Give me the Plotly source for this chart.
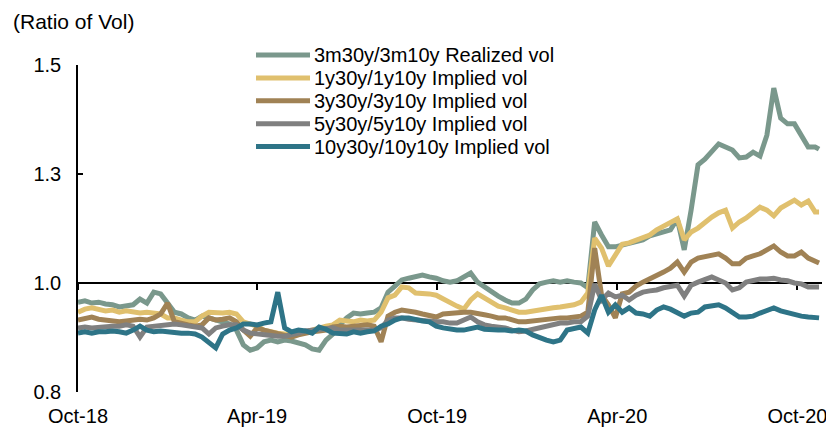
import pandas as pd
import plotly.graph_objects as go

# Weekly observation dates (Oct-2018 .. Oct-2020) plus the last print
dates = list(pd.date_range("2018-10-01", periods=108, freq="7D").strftime("%Y-%m-%d")) + ["2020-10-23"]

realized_3m = [
    0.956, 0.959, 0.954, 0.956, 0.952, 0.950, 0.945, 0.947, 0.950, 0.963,
    0.954, 0.979, 0.975, 0.954, 0.933, 0.929, 0.920, 0.915, 0.924, 0.920,
    0.915, 0.911, 0.906, 0.892, 0.858, 0.846, 0.851, 0.865, 0.869, 0.865,
    0.869, 0.867, 0.862, 0.858, 0.849, 0.846, 0.869, 0.883, 0.904, 0.920,
    0.931, 0.929, 0.931, 0.933, 0.943, 0.979, 0.993, 1.007, 1.011, 1.016,
    1.018, 1.014, 1.011, 1.005, 1.002, 1.005, 1.014, 1.023, 1.002, 0.991,
    0.979, 0.970, 0.961, 0.954, 0.954, 0.963, 0.984, 0.998, 1.002, 1.005,
    1.002, 1.005, 1.002, 1.000, 0.989, 1.140, 1.110, 1.083, 1.083, 1.087,
    1.092, 1.096, 1.099, 1.108, 1.112, 1.117, 1.122, 1.147, 1.076, 1.167,
    1.271, 1.284, 1.300, 1.319, 1.312, 1.305, 1.287, 1.289, 1.300, 1.291,
    1.339, 1.447, 1.378, 1.365, 1.365, 1.339, 1.312, 1.312, 1.307,
]
implied_1y = [
    0.933, 0.940, 0.943, 0.938, 0.936, 0.938, 0.933, 0.936, 0.933, 0.931,
    0.933, 0.931, 0.929, 0.920, 0.920, 0.915, 0.911, 0.911, 0.924, 0.933,
    0.931, 0.931, 0.933, 0.929, 0.911, 0.906, 0.901, 0.892, 0.888, 0.885,
    0.883, 0.881, 0.883, 0.888, 0.890, 0.897, 0.901, 0.904, 0.915, 0.913,
    0.911, 0.915, 0.913, 0.915, 0.933, 0.966, 0.972, 0.991, 0.989, 0.977,
    0.977, 0.975, 0.972, 0.963, 0.954, 0.947, 0.940, 0.961, 0.975, 0.966,
    0.959, 0.947, 0.943, 0.938, 0.933, 0.933, 0.936, 0.938, 0.940, 0.943,
    0.945, 0.947, 0.950, 0.956, 0.977, 1.103, 1.080, 1.039, 1.064, 1.089,
    1.092, 1.099, 1.106, 1.110, 1.122, 1.131, 1.140, 1.147, 1.099, 1.117,
    1.126, 1.140, 1.151, 1.161, 1.167, 1.126, 1.140, 1.149, 1.163, 1.174,
    1.167, 1.154, 1.172, 1.181, 1.190, 1.179, 1.188, 1.163, 1.163,
]
implied_3y = [
    0.915, 0.920, 0.922, 0.917, 0.915, 0.913, 0.911, 0.913, 0.915, 0.917,
    0.915, 0.920, 0.929, 0.954, 0.911, 0.906, 0.904, 0.901, 0.904, 0.920,
    0.915, 0.917, 0.920, 0.911, 0.892, 0.878, 0.897, 0.892, 0.888, 0.883,
    0.878, 0.876, 0.881, 0.885, 0.888, 0.890, 0.892, 0.899, 0.901, 0.899,
    0.901, 0.901, 0.904, 0.901, 0.865, 0.924, 0.933, 0.938, 0.936, 0.933,
    0.929, 0.924, 0.922, 0.929, 0.931, 0.933, 0.933, 0.933, 0.929, 0.927,
    0.924, 0.920, 0.920, 0.915, 0.911, 0.911, 0.913, 0.915, 0.915, 0.917,
    0.920, 0.920, 0.922, 0.924, 0.933, 1.080, 0.972, 0.950, 0.920, 0.975,
    0.979, 0.993, 1.002, 1.009, 1.016, 1.025, 1.034, 1.048, 1.025, 1.048,
    1.057, 1.060, 1.064, 1.067, 1.057, 1.044, 1.044, 1.057, 1.062, 1.067,
    1.076, 1.085, 1.071, 1.062, 1.062, 1.071, 1.057, 1.048, 1.046,
]
implied_5y = [
    0.897, 0.899, 0.897, 0.899, 0.899, 0.901, 0.901, 0.904, 0.901, 0.876,
    0.899, 0.901, 0.904, 0.904, 0.906, 0.904, 0.901, 0.899, 0.897, 0.883,
    0.897, 0.901, 0.904, 0.904, 0.892, 0.885, 0.883, 0.881, 0.881, 0.878,
    0.878, 0.881, 0.885, 0.890, 0.892, 0.894, 0.897, 0.897, 0.892, 0.892,
    0.892, 0.892, 0.890, 0.892, 0.897, 0.915, 0.920, 0.920, 0.917, 0.915,
    0.915, 0.913, 0.911, 0.911, 0.908, 0.908, 0.915, 0.922, 0.911, 0.904,
    0.901, 0.899, 0.897, 0.892, 0.888, 0.890, 0.894, 0.897, 0.901, 0.906,
    0.908, 0.908, 0.911, 0.911, 0.924, 0.998, 0.961, 0.977, 0.968, 0.972,
    0.961, 0.972, 0.979, 0.982, 0.984, 0.989, 0.993, 0.995, 0.970, 0.995,
    1.002, 1.007, 1.014, 1.007, 1.000, 0.984, 0.989, 1.002, 1.007, 1.009,
    1.009, 1.011, 1.007, 1.005, 1.000, 0.998, 0.991, 0.991, 0.991,
]
implied_10y = [
    0.885, 0.888, 0.885, 0.888, 0.888, 0.890, 0.888, 0.885, 0.892, 0.901,
    0.892, 0.888, 0.890, 0.888, 0.888, 0.885, 0.885, 0.883, 0.876, 0.865,
    0.851, 0.883, 0.892, 0.897, 0.906, 0.906, 0.904, 0.908, 0.911, 0.979,
    0.897, 0.888, 0.892, 0.890, 0.885, 0.899, 0.894, 0.885, 0.883, 0.883,
    0.888, 0.885, 0.888, 0.890, 0.901, 0.906, 0.915, 0.920, 0.920, 0.915,
    0.913, 0.911, 0.901, 0.897, 0.894, 0.892, 0.892, 0.897, 0.899, 0.894,
    0.892, 0.892, 0.892, 0.890, 0.892, 0.890, 0.881, 0.874, 0.869, 0.865,
    0.869, 0.892, 0.897, 0.899, 0.885, 0.938, 0.972, 0.933, 0.950, 0.933,
    0.943, 0.931, 0.929, 0.924, 0.938, 0.945, 0.940, 0.931, 0.924, 0.931,
    0.933, 0.945, 0.947, 0.950, 0.943, 0.931, 0.922, 0.922, 0.924, 0.931,
    0.936, 0.943, 0.936, 0.931, 0.927, 0.924, 0.922, 0.922, 0.920,
]

series_names = [
    "3m30y/3m10y Realized vol",
    "1y30y/1y10y Implied vol",
    "3y30y/3y10y Implied vol",
    "5y30y/5y10y Implied vol",
    "10y30y/10y10y Implied vol",
]
series_values = [realized_3m, implied_1y, implied_3y, implied_5y, implied_10y]
series_colors = ["#7A988C", "#E0C06E", "#A08255", "#808080", "#2E7487"]

x_tick_dates = ["2018-10-01", "2019-04-01", "2019-10-01", "2020-04-01", "2020-10-01"]
x_tick_text = ["Oct-18", "Apr-19", "Oct-19", "Apr-20", "Oct-20"]
y_tick_vals = [0.75, 1.0, 1.25, 1.5]
y_tick_text = ["0.8", "1.0", "1.3", "1.5"]
x_range = ["2018-10-01", "2020-10-26"]
y_range = [0.75, 1.5]

FONT = "Liberation Sans, Arial, sans-serif"

# page layout (pixels). The page body adds an 8px offset, so the figure is
# sized to fill the rest of the 834x428 window.
OFF = 8
W, H = 834 - OFF, 428 - OFF
ML, MR, MT, MB = 78 - OFF, 12, 65 - OFF, 36
PW, PH = W - ML - MR, H - MT - MB


def px_x(sx):
    """screen x pixel -> paper fraction"""
    return (sx - OFF - ML) / PW


def px_y(sy):
    """screen y pixel -> paper fraction"""
    return (H - MB - (sy - OFF)) / PH


fig = go.Figure()
for name, vals, col in zip(series_names, series_values, series_colors):
    fig.add_trace(go.Scatter(x=dates, y=vals, name=name, mode="lines",
                             line=dict(color=col, width=5), showlegend=False))

# empty trace so the axis drawn through 1.0 is registered
fig.add_trace(go.Scatter(x=[], y=[], xaxis="x2", showlegend=False, hoverinfo="skip"))

# legend drawn as key lines + labels
legend_shapes, legend_notes = [], []
for i, (name, col) in enumerate(zip(series_names, series_colors)):
    cy = 55 + 22.9 * i
    legend_shapes.append(dict(type="line", xref="paper", yref="paper",
                              x0=px_x(256), x1=px_x(310), y0=px_y(cy), y1=px_y(cy),
                              line=dict(color=col, width=5)))
    legend_notes.append(dict(text=name, xref="paper", yref="paper",
                             x=px_x(312), y=px_y(cy), xanchor="left", yanchor="middle",
                             showarrow=False, font=dict(family=FONT, size=20, color="black")))

title_note = dict(text="(Ratio of Vol)", xref="paper", yref="paper",
                  x=px_x(11), y=px_y(21), xanchor="left", yanchor="middle",
                  showarrow=False, font=dict(family=FONT, size=21, color="black"))

fig.update_layout(
    width=W, height=H,
    margin=dict(l=ML, r=MR, t=MT, b=MB, autoexpand=False),
    paper_bgcolor="white", plot_bgcolor="white",
    font=dict(family=FONT, size=20, color="black"),
    showlegend=False,
    shapes=legend_shapes,
    annotations=[title_note] + legend_notes,
    xaxis=dict(type="date", range=x_range, tickvals=x_tick_dates, ticktext=x_tick_text,
               showline=False, showgrid=False, zeroline=False, ticks="",
               ticklabelstandoff=10, tickangle=0, tickfont=dict(size=20)),
    xaxis2=dict(type="date", range=x_range, overlaying="x", anchor="free",
                position=(1.0 - y_range[0]) / (y_range[1] - y_range[0]),
                side="bottom", showline=True, linecolor="black", linewidth=1.5,
                ticks="outside", ticklen=6, tickwidth=1.5, tickcolor="black",
                tickvals=x_tick_dates, showticklabels=False, showgrid=False,
                zeroline=False, layer="below traces"),
    yaxis=dict(range=y_range, tickvals=y_tick_vals, ticktext=y_tick_text,
               showline=True, linecolor="black", linewidth=1.5,
               ticks="inside", ticklen=5, tickwidth=1.5, tickcolor="black",
               showgrid=False, zeroline=False, ticklabelstandoff=11,
               tickfont=dict(size=20)),
)

fig.write_html("out.html")
